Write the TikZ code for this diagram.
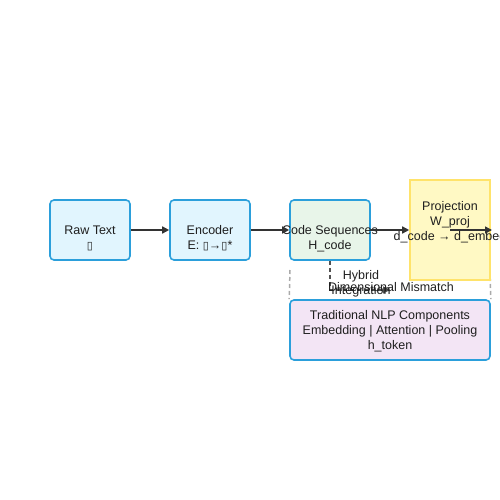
\documentclass[tikz,border=0pt]{standalone}
\usepackage{fontspec}
\setmainfont{Liberation Sans}
\newfontfamily\symfont{DejaVu Sans}
\usetikzlibrary{arrows.meta}
\definecolor{bluefill}{HTML}{E1F5FE}
\definecolor{blueline}{HTML}{2B9FDB}
\definecolor{greenfill}{HTML}{E8F5E9}
\definecolor{yellowfill}{HTML}{FFF9C4}
\definecolor{yellowline}{HTML}{FFE36A}
\definecolor{purplefill}{HTML}{F3E5F5}
\definecolor{arrowcol}{HTML}{333333}
\definecolor{dashgray}{HTML}{AAAAAA}
\newcommand{\tofu}{{\symfont\fontsize{11}{11}\selectfont ▯}}
\tikzset{
  box/.style={draw=blueline, line width=1.6pt, rounded corners=4pt, minimum width=80pt, minimum height=60pt, inner sep=0pt},
  projbox/.style={draw=yellowline, fill=yellowfill, line width=1.6pt, minimum width=80pt, minimum height=100pt, inner sep=0pt},
  txt/.style={align=center, font=\fontsize{12.5}{15}\selectfont, inner sep=0pt, text=black!88},
  flow/.style={draw=arrowcol, line width=1.5pt, -{Triangle[length=7pt,width=7pt]}},
  hybrid/.style={draw=arrowcol!85, line width=1.5pt, dash pattern=on 4pt off 3pt, -{Triangle[length=7pt,width=7pt]}},
  guide/.style={draw=dashgray, line width=1.5pt, dash pattern=on 4pt off 3pt},
}
\begin{document}
\begin{tikzpicture}[x=1pt,y=-1pt]
\useasboundingbox (0,0) rectangle (500,500);
\node[box, fill=bluefill] (raw) at (90,230) {};
\node[txt] (rawt) at (90,238.5) {Raw Text\\\tofu};
\node[box, fill=bluefill] (enc) at (210,230) {};
\node[txt] (enct) at (210,238.5) {Encoder\\E: \tofu→\tofu*};
\node[box, fill=greenfill] (code) at (330,230) {};
\node[txt] (codet) at (330,238.5) {Code Sequences\\H\_code};
\node[box, fill=purplefill, minimum width=200pt] (trad) at (390,330) {};
\node[txt] (tradt) at (390,331) {Traditional NLP Components\\Embedding | Attention | Pooling\\h\_token};
\coordinate (gl1) at (290,270);
\coordinate (gl2) at (490,270);
\draw[guide] (gl1) -- (trad.north west);
\draw[guide] (gl2) -- (trad.north east);
\node[projbox] (proj) at (450,230) {};
\node[txt] (projt) at (450,222) {Projection\\W\_proj\\d\_code → d\_embed};
\coordinate (projout) at (492,230);
\coordinate (hybend) at (390,290);
\draw[flow] (raw) -- (enc);
\draw[flow] (enc) -- (code);
\draw[flow] (code) -- (proj);
\draw[flow] (proj.center) -- (projout);
\draw[hybrid] (code.south) |- (hybend);
\node[txt] (hyblbl) at (361,284) {Hybrid\\Integration};
\node[txt] (mism) at (391,287) {Dimensional Mismatch};
\end{tikzpicture}
\end{document}
